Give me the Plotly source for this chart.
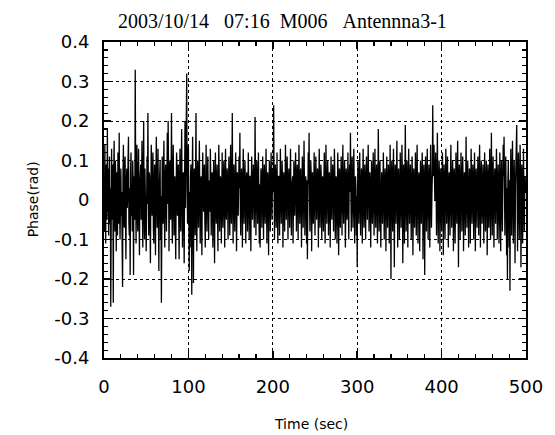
import plotly.graph_objects as go

# Phase samples in units of 0.01 rad, two per second (t = 0, 0.5, ... 500 s); one row = 10 s
phase_centirad = [
    5, -8, 14, 2, -11, 9, 6, -5, 18, -3, 8, -9, 4, 11, -6, 3, -27, 7, 13, -4,
    -5, 9, -26, 6, 15, -2, -8, 10, 4, -13, 7, 1, -9, 12, 3, -6, 17, -1, -10, 5,
    8, -4, 2, -12, -22, 6, 14, -3, -7, 9, 11, -5, -15, 4, 8, -2, 1, 10, 16, -6,
    -9, 3, -19, 7, 12, -4, 2, -8, 10, 5, -19, 6, 3, -5, 33, 8, -11, 2, 14, -3,
    -8, 6, 13, -2, -14, 4, 7, 9, -5, 1, 15, -4, -12, 6, 20, -3, -10, 8, 4, -6,
    -13, 5, 11, -1, 22, 3, -9, 7, 6, -4, -16, 2, 14, 8, -4, 1, 12, -7, -11, 5,
    9, -3, -14, 6, 16, 2, -7, 4, 13, -5, -18, 3, 7, 10, -10, 1, -26, 6, 11, -2,
    -6, 8, 15, -3, -12, 5, 9, 2, -8, 4, 17, -1, 20, 6, -13, 3, 10, -4, -5, 7,
    22, -2, -11, 6, 14, 3, -9, 5, 6, -6, -15, 2, 12, 8, -4, 1, 9, -3, -15, 4,
    13, -5, -8, 7, 18, 2, -12, 4, 7, -3, -16, 5, 20, -2, 11, 8, 32, 3, -6, 10,
    14, -4, -18, 2, -12, 6, 9, -3, -24, 5, 16, 1, -21, 4, 8, -2, -9, 6, 22, -5,
    -13, 4, 10, -2, -7, 6, 15, 1, -11, 3, 6, -4, -14, 5, 12, 2, -3, 7, 9, -5,
    -12, 3, 14, -1, -8, 5, 11, 2, -10, 4, 5, -3, 13, 6, -9, 1, 7, 3, -12, 5,
    10, -2, -16, 4, 12, 1, -6, 5, 9, -3, -13, 2, 14, 6, -8, 1, 6, 4, -11, 3,
    12, -1, -7, 5, 10, 2, -12, 4, 13, -2, -5, 6, 8, 1, -10, 3, 11, 5, -9, 2,
    14, -3, -6, 4, 22, 1, -11, 5, 9, -2, -8, 3, 12, 6, -13, 1, 7, 4, -4, 2,
    11, 3, 17, -2, -9, 5, 8, 2, -12, 4, 13, -1, -6, 6, 10, 3, -11, 2, 7, 5,
    -8, 3, 12, 1, -10, 6, 6, -2, -13, 4, 11, 2, -5, 5, 9, 3, -7, 1, 21, 4,
    -9, 2, 10, 5, -6, 3, 12, -1, -11, 4, -12, 2, 8, 6, -7, 1, 11, 3, -10, 5,
    9, -2, -6, 4, 13, 2, -11, 5, 7, 1, -14, 3, 10, 6, -8, 2, 12, 4, -5, 3,
    8, 2, 24, 4, -10, 1, 9, 5, -7, 3, 12, -2, -11, 6, 6, 2, -9, 4, 13, 1,
    -6, 3, 10, 5, -12, 2, 7, 4, -8, 1, 14, 3, -5, 6, 11, 2, -10, 4, 8, 1,
    -7, 5, 13, 2, -9, 3, 6, 6, -11, 1, 10, 4, -4, 2, 12, 5, -8, 3, 9, 1,
    -10, 4, 14, 2, -6, 5, 8, 1, -12, 3, 11, 6, -7, 2, 15, 4, -9, 1, 6, 3,
    -11, 5, -15, 2, 12, 4, 17, 1, -8, 3, 10, 6, -13, 2, 7, 4, -6, 1, 12, 5,
    -9, 2, 11, 4, -5, 3, 8, 6, -12, 1, 13, 4, -7, 2, 9, 5, -10, 3, 6, 1,
    -8, 4, 12, 2, -11, 5, 14, 1, -6, 3, 10, 6, -9, 2, 7, 4, -12, 1, 11, 3,
    -5, 5, 9, 2, -8, 3, 13, 6, -10, 1, 6, 4, -11, 2, 12, 5, -14, 3, 8, 1,
    -7, 4, 11, 2, -9, 5, 14, 1, -6, 3, 10, 6, -12, 2, 8, 4, -5, 1, 12, 3,
    -10, 5, 9, 2, 17, 3, -8, 6, 11, 1, -7, 4, 13, 2, -11, 5, 6, 3, -9, 1,
    -17, 4, 10, 2, -6, 5, 12, 1, -9, 3, 8, 6, -11, 2, 13, 4, -7, 1, 9, 3,
    -10, 5, 11, 2, -5, 3, 14, 6, -8, 1, 7, 4, -12, 2, 10, 5, -6, 3, 12, 1,
    -9, 4, 13, 2, -7, 5, 9, 1, -11, 3, 18, 6, -8, 2, 10, 4, -12, 1, 7, 3,
    -6, 5, 12, 2, -10, 3, 8, 6, -13, 1, 11, 4, -7, 2, 9, 5, -11, 3, 14, 1,
    -20, 4, 10, 2, -8, 5, 13, 1, -17, 3, 9, 6, -6, 2, 15, 4, -12, 1, 8, 3,
    -10, 5, 12, 2, -7, 3, 14, 6, -16, 1, 9, 4, -11, 2, 19, 5, -8, 3, 10, 1,
    -12, 4, 13, 2, -6, 5, 9, 1, -10, 3, 11, 6, -14, 2, 8, 4, -7, 1, 12, 3,
    -9, 5, 14, 2, -11, 3, 7, 6, -13, 1, 10, 4, -6, 2, 12, 5, -15, 3, 9, 1,
    -19, 4, 11, 2, -8, 5, 13, 1, -10, 3, 9, 6, -12, 2, 14, 4, -7, 1, 6, 24,
    6, 8, 14, 3, 0, 5, 12, 2, -9, 4, 17, 1, -11, 3, 10, 6, -13, 2, 8, 4,
    -8, 3, 12, 5, -14, 1, 9, 4, -10, 2, 13, 6, -6, 3, 11, 1, -12, 4, 7, 2,
    -9, 5, 14, 1, -7, 3, 10, 6, -13, 2, 8, 4, -11, 1, 12, 3, -6, 5, 15, 2,
    -17, 4, 9, 1, -10, 3, 12, 6, -8, 2, 11, 4, -13, 1, 7, 5, -9, 3, 16, 2,
    -7, 4, 10, 1, -12, 3, 8, 6, -11, 2, 13, 5, -6, 1, 9, 3, -10, 4, 12, 2,
    -13, 5, 8, 1, -7, 3, 11, 6, -9, 2, 14, 4, -12, 1, 10, 3, -6, 5, 9, 2,
    -11, 4, 12, 1, -8, 3, 10, 6, -14, 2, 9, 5, -7, 1, 13, 3, -10, 4, 17, 2,
    -9, 5, 11, 1, -12, 3, 8, 6, -6, 2, 13, 4, -10, 1, 9, 3, -11, 5, 12, 2,
    -13, 4, 10, 1, -8, 3, 14, 6, 16, 2, -9, 5, 11, 1, -14, 3, -20, 4, 10, 2,
    -12, 5, -23, 1, 13, 3, -9, 6, 15, 2, -11, 4, 10, 1, -16, 3, 8, 5, 19, 2,
    -13, 4, 12, 1, -10, 3, 14, 6, -17, 2, 9, 5, -11, 1, 13, 3, -8, 4, 6, 2,
    2,
]
sample_step_sec = 0.5
phase = [v / 100 for v in phase_centirad]
time_sec = [i * sample_step_sec for i in range(len(phase))]

x_tick_vals = [0, 100, 200, 300, 400, 500]
y_tick_vals = [-0.4, -0.3, -0.2, -0.1, 0, 0.1, 0.2, 0.3, 0.4]
y_tick_text = ["-0.4", "-0.3", "-0.2", "-0.1", "0", "0.1", "0.2", "0.3", "0.4"]

title_text = "2003/10/14\u00a0\u00a0\u00a007:16\u00a0\u00a0M006\u00a0\u00a0\u00a0Antennna3-1"
x_title = "Time (sec)"
y_title = "Phase(rad)"

fig = go.Figure()
fig.add_trace(go.Scatter(x=time_sec, y=phase, mode="lines",
                         line=dict(color="black", width=1.3), showlegend=False,
                         hoverinfo="skip"))
# invisible copy on the label axes so that they get drawn
fig.add_trace(go.Scatter(x=time_sec[:1], y=phase[:1], mode="markers", xaxis="x2", yaxis="y2",
                         marker=dict(opacity=0), showlegend=False, hoverinfo="skip"))

W, H = 555, 435
L, R, T, B = 104, 27, 42, 77
pw, ph = W - L - R, H - T - B

tick_font = dict(family="DejaVu Sans", size=18, color="black")
frame_axis = dict(
    showline=True, linecolor="black", linewidth=2, mirror="allticks",
    ticks="inside", ticklen=7, tickwidth=1.5, tickcolor="black",
    showgrid=True, gridcolor="black", griddash="dot", gridwidth=1,
    zeroline=False, showticklabels=False,
)
label_axis = dict(
    showline=False, showgrid=False, zeroline=False, ticks="outside",
    tickcolor="rgba(0,0,0,0)", tickfont=tick_font, fixedrange=True,
)

fig.update_layout(
    xaxis=dict(range=[0, 500], tickvals=x_tick_vals,
               minor=dict(ticks="inside", ticklen=4, dtick=20, tickcolor="black",
                          tickwidth=1.2, showgrid=False),
               **frame_axis),
    yaxis=dict(range=[-0.4, 0.4], tickvals=y_tick_vals,
               minor=dict(ticks="inside", ticklen=4, dtick=0.02, tick0=0, tickcolor="black",
                          tickwidth=1.2, showgrid=False),
               **frame_axis),
    xaxis2=dict(range=[0, 500], tickvals=x_tick_vals, overlaying="x", side="bottom",
                anchor="y2", ticklen=12, **label_axis),
    yaxis2=dict(range=[-0.4, 0.4], tickvals=y_tick_vals, ticktext=y_tick_text,
                overlaying="y", side="left", anchor="x2", ticklen=10, **label_axis),
)

fig.add_annotation(text=title_text, xref="paper", yref="paper",
                   x=(283 - L) / pw, y=1 + (T - 21) / ph, xanchor="center", yanchor="middle",
                   showarrow=False, font=dict(family="Liberation Serif", size=20, color="black"))
fig.add_annotation(text=x_title, xref="paper", yref="paper",
                   x=(312 - L) / pw, y=-(424 - T - ph) / ph, xanchor="center", yanchor="middle",
                   showarrow=False, font=dict(family="DejaVu Sans", size=14, color="black"))
fig.add_annotation(text=y_title, xref="paper", yref="paper",
                   x=-(L - 33) / pw, y=(T + ph - 199) / ph, xanchor="center", yanchor="middle",
                   textangle=-90,
                   showarrow=False, font=dict(family="DejaVu Sans", size=14, color="black"))

fig.update_layout(width=W, height=H, margin=dict(l=L, r=R, t=T, b=B),
                  paper_bgcolor="white", plot_bgcolor="white", hovermode=False)

fig.write_html("out.html", config={"displayModeBar": False, "staticPlot": True},
               post_script="document.body.style.margin='0';")
